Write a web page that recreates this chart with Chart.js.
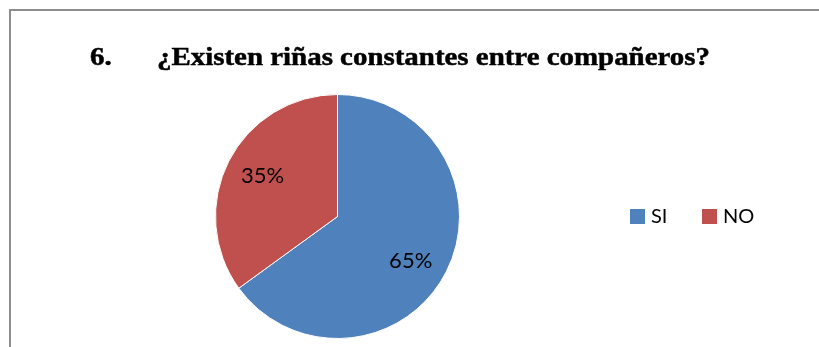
<!DOCTYPE html>
<html>
<head>
<meta charset="utf-8">
<script src="https://cdn.jsdelivr.net/npm/chart.js@4.4.1/dist/chart.umd.min.js"></script>
<style>
  html, body { margin: 0; padding: 0; background: #fff; }
  #wrap { position: relative; width: 819px; height: 347px; }
  canvas { display: block; }
</style>
</head>
<body>
<div id="wrap"><canvas id="c" width="819" height="347"></canvas></div>
<script>
// Survey question 6 answers
const questionNumber = '6.';
const questionText = '¿Existen riñas constantes entre compañeros?';
const categories = ['SI', 'NO'];
const percentages = [65, 35];
const sliceColors = ['#4F81BD', '#C0504D'];

// Frame, title and legend drawn around the pie
const decorPlugin = {
  id: 'decor',
  beforeDraw(chart) {
    const ctx = chart.ctx;
    ctx.save();
    ctx.strokeStyle = '#8e8e8e';
    ctx.lineWidth = 2;
    ctx.beginPath();
    ctx.moveTo(10, 360);
    ctx.lineTo(10, 10);
    ctx.lineTo(830, 10);
    ctx.stroke();
    ctx.restore();
  },
  afterDraw(chart) {
    const ctx = chart.ctx;
    ctx.save();
    ctx.fillStyle = '#000';
    ctx.strokeStyle = '#000';
    ctx.lineWidth = 0.5;
    ctx.font = 'bold 26px "Liberation Serif", "Times New Roman", serif';
    ctx.textBaseline = 'alphabetic';
    ctx.textAlign = 'left';
    // heading set slightly wide and heavy
    ctx.save();
    ctx.translate(90, 65);
    ctx.scale(1.115, 1);
    ctx.fillText(questionNumber, 0, 0);
    ctx.strokeText(questionNumber, 0, 0);
    ctx.restore();
    ctx.save();
    ctx.translate(157, 65);
    const w = ctx.measureText(questionText).width;
    ctx.scale(553 / w, 1);
    ctx.fillText(questionText, 0, 0);
    ctx.strokeText(questionText, 0, 0);
    ctx.restore();

    // legend
    const items = chart.data.labels;
    const colors = chart.data.datasets[0].backgroundColor;
    const xs = [630, 702];
    ctx.font = '20px Lato, "Open Sans", sans-serif';
    ctx.textBaseline = 'middle';
    items.forEach((lab, i) => {
      ctx.fillStyle = colors[i];
      ctx.fillRect(xs[i], 209, 15, 15);
      ctx.fillStyle = '#000';
      ctx.fillText(lab, xs[i] + 21, 217);
    });
    ctx.restore();
  }
};

// Percentage labels placed inside each arc
const valueLabels = {
  id: 'valueLabels',
  afterDatasetsDraw(chart) {
    const ctx = chart.ctx;
    const meta = chart.getDatasetMeta(0);
    ctx.save();
    ctx.fillStyle = '#000';
    ctx.font = '22px Lato, "Open Sans", sans-serif';
    ctx.textAlign = 'center';
    ctx.textBaseline = 'middle';
    meta.data.forEach((arc, i) => {
      const p = arc.getProps(['x', 'y', 'startAngle', 'endAngle', 'outerRadius'], true);
      const mid = (p.startAngle + p.endAngle) / 2 + (i === 0 ? 0.07 : 0.03);
      const r = p.outerRadius * 0.70;
      ctx.fillText(chart.data.datasets[0].data[i] + '%', p.x + Math.cos(mid) * r, p.y + Math.sin(mid) * r);
    });
    ctx.restore();
  }
};

new Chart(document.getElementById('c'), {
  type: 'pie',
  data: {
    labels: categories,
    datasets: [{
      data: percentages,
      backgroundColor: sliceColors,
      borderColor: '#ffffff',
      borderWidth: 1
    }]
  },
  options: {
    responsive: false,
    animation: false,
    events: [],
    layout: { padding: { left: 215, right: 359, top: 94, bottom: 8 } },
    plugins: {
      legend: { display: false },
      title: { display: false },
      tooltip: { enabled: false }
    }
  },
  plugins: [decorPlugin, valueLabels]
});
</script>
</body>
</html>
